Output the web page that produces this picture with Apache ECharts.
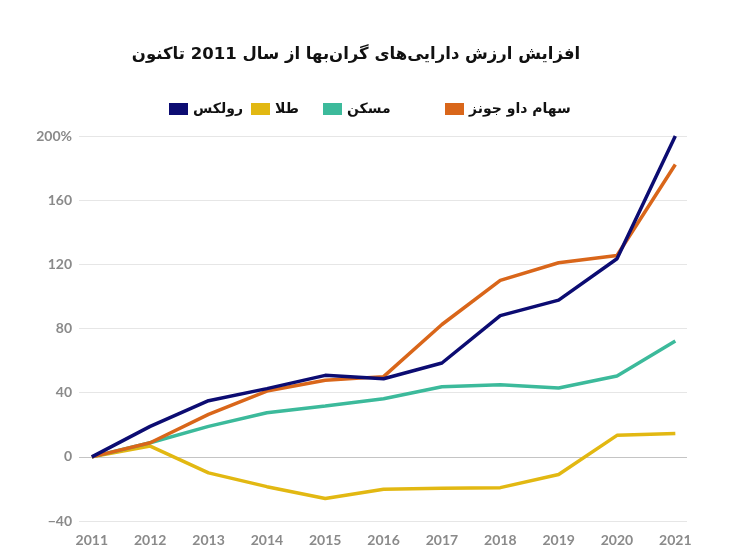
<!DOCTYPE html>
<html>
<head>
<meta charset="utf-8">
<script src="https://cdn.jsdelivr.net/npm/echarts@6/dist/echarts.min.js"></script>
<style>
html,body{margin:0;padding:0;background:#fff;}
#chart{width:731px;height:556px;}
</style>
</head>
<body>
<div id="chart"></div>
<script>
const years = [2011, 2012, 2013, 2014, 2015, 2016, 2017, 2018, 2019, 2020, 2021];
const rolex = [0, 19, 35, 42.5, 50.8, 48.7, 58.5, 88, 97.7, 123.5, 200];
const gold = [0, 6.7, -10, -18.6, -26, -20.2, -19.6, -19.2, -11, 13.4, 14.6];
const housing = [0, 8.8, 19, 27.5, 31.7, 36.2, 43.7, 45, 42.9, 50.4, 72.2];
const dowJones = [0, 8.8, 26.5, 41, 47.7, 50, 82.5, 110, 121, 125.5, 182.2];
const yTicks = [-40, 0, 40, 80, 120, 160, 200];

const names = {rolex: 'رولکس', gold: 'طلا', housing: 'مسکن', dow: 'سهام داو جونز'};
const colors = {rolex: '#0c0c72', gold: '#e2b812', housing: '#3cba9b', dow: '#d9661a'};

const pairs = arr => years.map((y, i) => [y, arr[i]]);
const chart = echarts.init(document.getElementById('chart'));

function legendAt(name, left) {
  return {
    left: left, top: 97, orient: 'horizontal',
    data: [name], icon: 'rect', itemWidth: 19, itemHeight: 12, itemGap: 0,
    textStyle: {fontFamily: 'DejaVu Sans', fontWeight: 'bold', fontSize: 14, color: '#111'},
    selectedMode: false
  };
}

const gridColors = yTicks.map(v => v === 0 ? '#c4c4c4' : '#e6e6e6');

chart.setOption({
  animation: false,
  backgroundColor: '#fff',
  title: {
    text: 'افزایش ارزش دارایی‌های گران‌بها از سال 2011 تاکنون',
    left: 351, top: 41, textAlign: 'center',
    textStyle: {fontFamily: 'DejaVu Sans', fontWeight: 'bold', fontSize: 16.5, color: '#111'}
  },
  legend: [
    legendAt(names.rolex, 164),
    legendAt(names.gold, 246),
    legendAt(names.housing, 318),
    legendAt(names.dow, 440)
  ],
  grid: {left: 79, right: 44, top: 136, bottom: 35, containLabel: false},
  xAxis: {
    type: 'value', min: 2010.78, max: 2021.2, splitNumber: 10, minInterval: 1, maxInterval: 1,
    axisLine: {show: false}, axisTick: {show: false}, splitLine: {show: false},
    axisLabel: {
      showMinLabel: false, showMaxLabel: false, margin: 12,
      fontFamily: 'Lato', fontWeight: 'bold', fontSize: 14, color: '#8a8a8a',
      formatter: v => Number.isInteger(v) ? String(v) : ''
    }
  },
  yAxis: {
    type: 'value', min: -40, max: 200, interval: 40,
    axisLine: {show: false}, axisTick: {show: false},
    splitLine: {show: true, lineStyle: {color: gridColors, width: 1}},
    axisLabel: {
      margin: 7, fontFamily: 'Lato', fontWeight: 'bold', fontSize: 14, color: '#8a8a8a',
      formatter: v => v === 200 ? '200%' : String(v).replace('-', '\u2212')
    }
  },
  series: [
    {name: names.gold, type: 'line', data: pairs(gold), showSymbol: false, symbol: 'none',
     lineStyle: {width: 3.5, color: colors.gold}, itemStyle: {color: colors.gold}},
    {name: names.housing, type: 'line', data: pairs(housing), showSymbol: false, symbol: 'none',
     lineStyle: {width: 3.5, color: colors.housing}, itemStyle: {color: colors.housing}},
    {name: names.dow, type: 'line', data: pairs(dowJones), showSymbol: false, symbol: 'none',
     lineStyle: {width: 3.5, color: colors.dow}, itemStyle: {color: colors.dow}},
    {name: names.rolex, type: 'line', data: pairs(rolex), showSymbol: false, symbol: 'none',
     lineStyle: {width: 3.5, color: colors.rolex}, itemStyle: {color: colors.rolex}}
  ]
});
</script>
</body>
</html>
